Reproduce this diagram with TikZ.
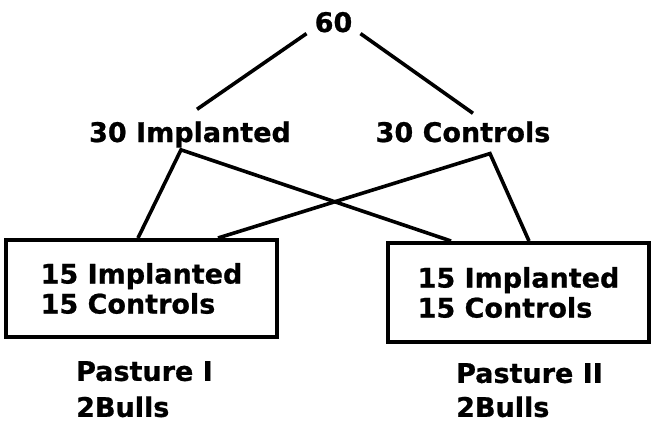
\documentclass[tikz,border=0pt]{standalone}
\usepackage{fontspec}
\setmainfont{DejaVu Sans}[BoldFeatures={FakeBold=0.8}]
\usetikzlibrary{calc}

\begin{document}
\begin{tikzpicture}[x=1pt, y=-1pt,
		every node/.style={font=\fontsize{27}{30}\selectfont\bfseries, inner sep=0pt},
		link/.style={line width=3.6pt},
		pen/.style={draw, line width=4pt, align=left}]
			%%%%% START %%%%%
			
			\useasboundingbox (0,0) rectangle (654,423);
			
			\node[anchor=base, inner xsep=8pt, inner ysep=1pt] (top) at (333.5,32) {60};
			\node[anchor=base] (impl) at (190,142) {30 Implanted};
			\node[anchor=base] (ctrl) at (463,142) {30 Controls};
			
			\node[pen, minimum width=271, minimum height=97] (pastA) at (141.5,288.5) {15 Implanted\\15 Controls};
			\node[pen, minimum width=261, minimum height=99] (pastB) at (518.5,292.5) {15 Implanted\\15 Controls};
			
			\node[anchor=north west, align=left] (labA) at (76,361) {Pasture I\\[6pt]2Bulls};
			\node[anchor=north west, align=left] (labB) at (456,363) {Pasture II\\[4pt]2Bulls};
			
			\coordinate (implfoot) at ([xshift=-9pt, yshift=-2pt]impl.south);
			\coordinate (ctrlfoot) at ([xshift=27pt, yshift=-11pt]ctrl.south);
			
			\draw[link] (top.south west) -- ([xshift=7pt, yshift=12pt]impl.north);
			\draw[link] (top.south east) -- ([xshift=10pt, yshift=8pt]ctrl.north);
			
			\draw[link] ([xshift=-3.5pt]pastA.north) -- (implfoot) -- ([xshift=-67.5pt]pastB.north);
			\draw[link] ([xshift=76.5pt]pastA.north) -- (ctrlfoot) -- ([xshift=10.5pt]pastB.north);
			
			%%%%% END %%%%%
\end{tikzpicture}
\end{document}
